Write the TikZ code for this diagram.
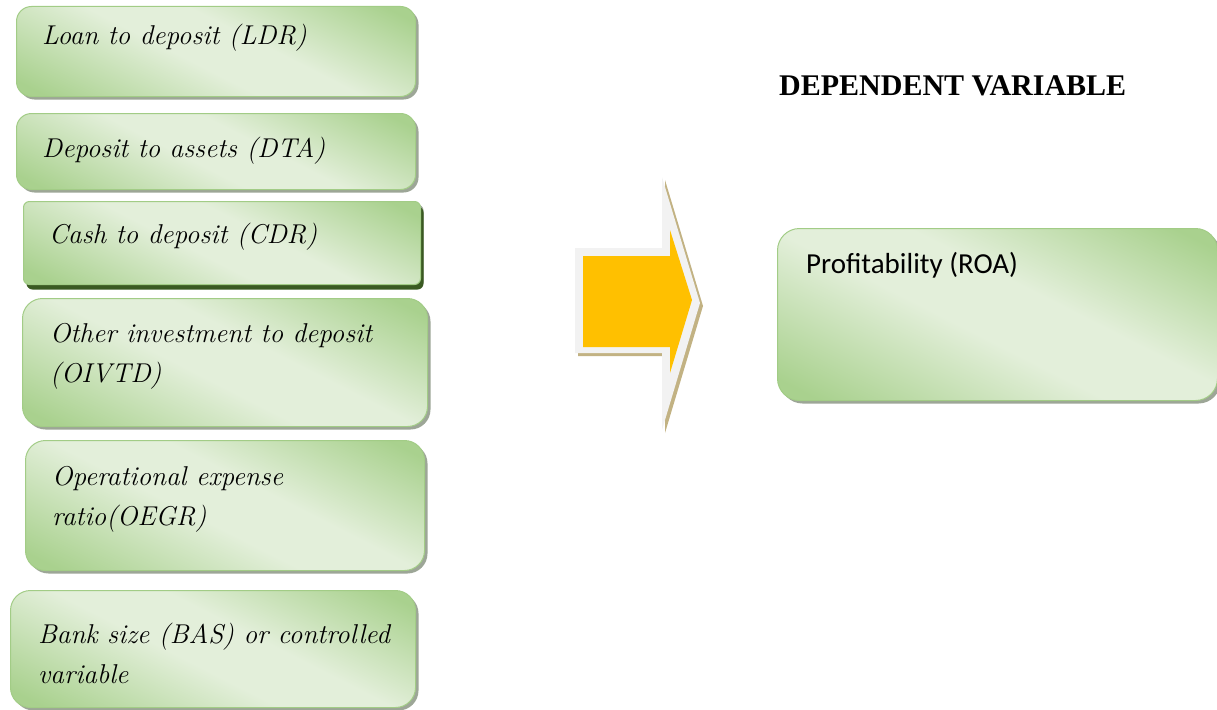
\documentclass[tikz,border=0pt]{standalone}
\usepackage{fontspec}
\newfontfamily\headfont{Liberation Serif}
\newfontfamily\calfont{Carlito}
\usetikzlibrary{shadows}
\definecolor{boxdark}{HTML}{A9D18E}
\definecolor{boxlight}{HTML}{E3EFDA}
\definecolor{boxline}{HTML}{A2CC86}
\definecolor{boxshadow}{HTML}{9DA697}
\definecolor{cdrshadow}{HTML}{3A5A22}
\definecolor{arrowfill}{HTML}{FFC000}
\definecolor{arrowrim}{HTML}{F2F2F2}
\definecolor{arrowshadow}{HTML}{C2B283}
\pgfdeclareverticalshading{boxfade}{100bp}{color(0bp)=(boxdark); color(20bp)=(boxdark); color(45bp)=(boxlight); color(57bp)=(boxlight); color(80bp)=(boxdark); color(100bp)=(boxdark)}
\tikzset{
  varbox/.style={draw=boxline, line width=1pt, rounded corners=15pt,
    shading=boxfade, shading angle=-27, anchor=north west, inner sep=0pt,
    drop shadow={shadow xshift=3pt, shadow yshift=-3pt, fill=boxshadow, opacity=1}},
  itemtext/.style={anchor=base west, inner sep=0pt, align=left,
    font=\fontsize{27.2}{39.5}\selectfont\itshape},
}
\begin{document}
\begin{tikzpicture}[x=1pt,y=-1pt]
  \useasboundingbox (0,0) rectangle (1217,709);
  % independent variables
  \node[varbox, minimum width=399pt, minimum height=90pt] (ldr) at (16,6) {};
  \node[varbox, minimum width=399pt, minimum height=76pt] (dta) at (16,113) {};
  \node[varbox, rounded corners=6pt, minimum width=397pt, minimum height=83pt,
    drop shadow={shadow xshift=3pt, shadow yshift=-5pt, fill=cdrshadow, opacity=1}] (cdr) at (23,201) {};
  \node[varbox, rounded corners=20pt, minimum width=405pt, minimum height=128pt] (oivtd) at (22,298) {};
  \node[varbox, rounded corners=20pt, minimum width=399pt, minimum height=130pt] (oegr) at (25,440) {};
  \node[varbox, rounded corners=20pt, minimum width=405pt, minimum height=117pt] (bas) at (10,590) {};
  % base of a two-line text is its last line
  \node[itemtext] (ldrtext) at ([shift={(26,39)}]ldr.north west) {Loan to deposit (LDR)};
  \node[itemtext] (dtatext) at ([shift={(26,44)}]dta.north west) {Deposit to assets (DTA)};
  \node[itemtext] (cdrtext) at ([shift={(26,42)}]cdr.north west) {Cash to deposit (CDR)};
  \node[itemtext] (oivtdtext) at ([shift={(28,84)}]oivtd.north west) {Other investment to deposit\\(OIVTD)};
  \node[itemtext] (oegrtext) at ([shift={(27,85)}]oegr.north west) {Operational expense\\ratio(OEGR)};
  \node[itemtext] (bastext) at ([shift={(28,93)}]bas.north west) {Bank size (BAS) or controlled\\variable};
  % arrow
  \fill[arrowshadow] (578,251) -- (665,251) -- (665,180) -- (703,306) -- (665,433) -- (665,356) -- (578,356) -- cycle;
  \fill[arrowrim] (575,248) -- (662,248) -- (662,177) -- (700,303) -- (662,430) -- (662,353) -- (575,353) -- cycle;
  \fill[arrowfill] (583,256) -- (670,256) -- (670,230) -- (692,300) -- (670,373) -- (670,347) -- (583,347) -- cycle;
  % dependent variable
  \node[anchor=base west, inner sep=0pt, font=\headfont\bfseries\fontsize{30}{35}\selectfont] (dephead) at (779,95) {DEPENDENT VARIABLE};
  \node[varbox, rounded corners=22pt, minimum width=440pt, minimum height=172pt] (roa) at (777,228) {};
  \node[anchor=base west, inner sep=0pt, font=\calfont\fontsize{29}{34}\selectfont] (roatext) at ([shift={(29,45)}]roa.north west) {Profitability (ROA)};
\end{tikzpicture}
\end{document}
